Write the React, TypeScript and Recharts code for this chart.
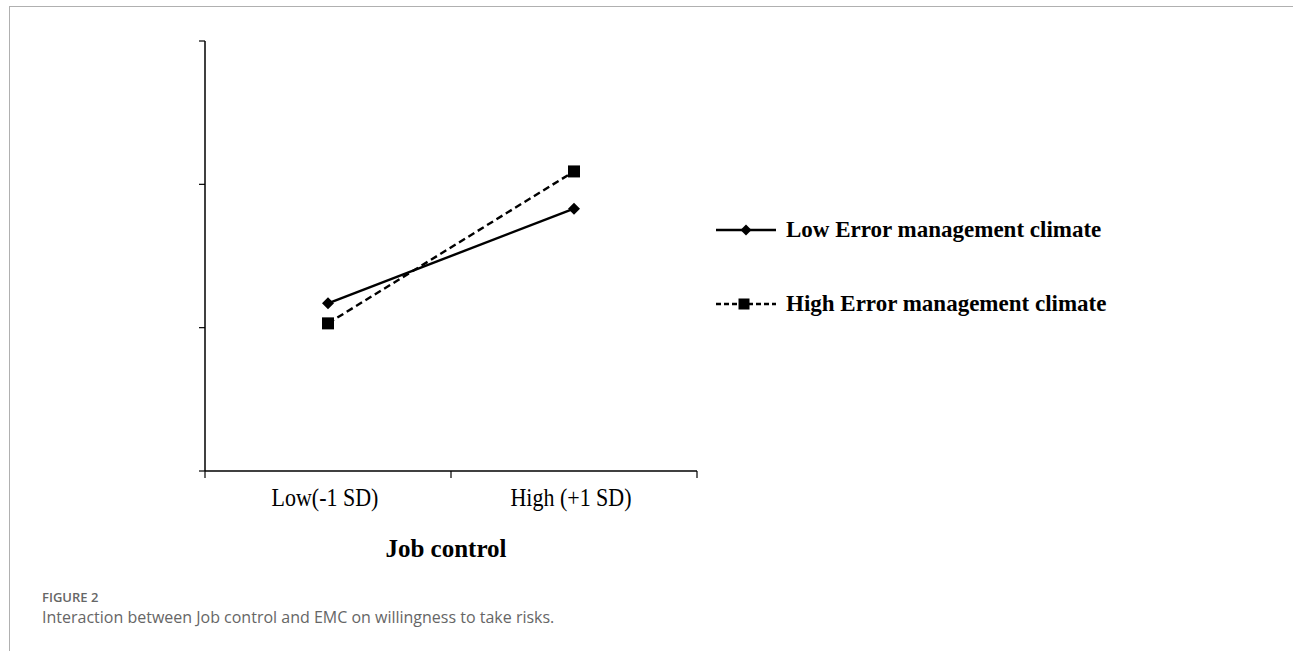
import { Legend, Line, LineChart, XAxis, YAxis } from "recharts";

const categories = ["Low(-1 SD)", "High (+1 SD)"];
const lowEmc = [1.17, 1.83];
const highEmc = [1.03, 2.09];
const yTicks = [0, 1, 2, 3];
const xLabel = "Job control";
const seriesNames = ["Low Error management climate", "High Error management climate"];
const figureTag = "FIGURE 2";
const caption = "Interaction between Job control and EMC on willingness to take risks.";

const data = categories.map((c, i) => ({
  x: i + 0.5,
  name: c,
  low: lowEmc[i],
  high: highEmc[i],
}));

// tick marks sit on the band edges, labels in the middle of each band
const xTicks = [0, 0.5, 1, 1.5, 2];

const serif = "'Liberation Serif', 'Times New Roman', serif";

function Diamond({ cx, cy, size = 6 }: { cx: number; cy: number; size?: number }) {
  return (
    <path
      d={`M${cx},${cy - size} L${cx + size},${cy} L${cx},${cy + size} L${cx - size},${cy} Z`}
      fill="#000"
    />
  );
}

function Square({ cx, cy, size = 6 }: { cx: number; cy: number; size?: number }) {
  return <rect x={cx - size} y={cy - size} width={size * 2} height={size * 2} fill="#000" />;
}

function BandTick(props: any) {
  const { x, y, payload } = props;
  const v = payload.value as number;
  if (Number.isInteger(v)) {
    return <line x1={x} x2={x} y1={y} y2={y + 7} stroke="#000" strokeWidth={1.2} />;
  }
  return (
    <text
      transform={`translate(${x - 3},${y + 35}) scale(1,1.12)`}
      textAnchor="middle"
      fontFamily={serif}
      fontSize={22}
      fill="#000"
    >
      {categories[Math.floor(v)]}
    </text>
  );
}

function KeyBox() {
  const rows = [
    { name: seriesNames[0], dash: undefined, marker: "diamond" },
    { name: seriesNames[1], dash: "5 3", marker: "square" },
  ];
  return (
    <div style={{ fontFamily: serif }}>
      {rows.map((r, i) => (
        <div
          key={r.name}
          style={{ display: "flex", alignItems: "center", height: 36, marginBottom: i === 0 ? 38 : 0 }}
        >
          <svg width={62} height={20} style={{ marginRight: 8 }}>
            <line x1={0} x2={60} y1={10} y2={10} stroke="#000" strokeWidth={2.5} strokeDasharray={r.dash} />
            {r.marker === "diamond" ? <Diamond cx={30} cy={10} size={5.5} /> : <Square cx={28} cy={10} size={5.5} />}
          </svg>
          <span style={{ fontWeight: 700, fontSize: 23, color: "#000" }}>{r.name}</span>
        </div>
      ))}
    </div>
  );
}

export default function App() {
  return (
    <div
      style={{
        position: "absolute",
        left: 0,
        top: 0,
        width: 1293,
        height: 651,
        background: "#fff",
        overflow: "hidden",
      }}
    >
      <div
        style={{
          position: "absolute",
          left: 9,
          top: 6,
          width: 1300,
          height: 700,
          borderTop: "1.5px solid #b0b0b0",
          borderLeft: "1.5px solid #b0b0b0",
        }}
      />
      <div style={{ position: "absolute", left: 0, top: 0 }}>
        <LineChart
          width={1293}
          height={651}
          data={data}
          margin={{ top: 41, right: 596, bottom: 80, left: 195 }}
        >
          <XAxis
            dataKey="x"
            type="number"
            domain={[0, 2]}
            ticks={xTicks}
            interval={0}
            tickLine={false}
            tickSize={0}
            tickMargin={0}
            tick={<BandTick />}
            height={100}
            axisLine={{ stroke: "#000", strokeWidth: 1.5 }}
            label={{
              value: xLabel,
              position: "insideBottom",
              offset: 14,
              dx: -5,
              style: { fontFamily: serif, fontSize: 25, fontWeight: 700, fill: "#000" },
            }}
          />
          <YAxis
            type="number"
            domain={[0, 3]}
            ticks={yTicks}
            interval={0}
            width={10}
            tickSize={6}
            tickFormatter={() => ""}
            tickLine={{ stroke: "#000", strokeWidth: 1.2 }}
            axisLine={{ stroke: "#000", strokeWidth: 1.5 }}
          />
          <Legend
            layout="horizontal"
            verticalAlign="middle"
            align="center"
            content={<KeyBox />}
            wrapperStyle={{ left: 716, top: 212, width: 470 }}
          />
          <Line
            dataKey="low"
            name={seriesNames[0]}
            stroke="#000"
            strokeWidth={2.4}
            dot={(p: any) => <Diamond key={`d${p.index}`} cx={p.cx} cy={p.cy} />}
            isAnimationActive={false}
          />
          <Line
            dataKey="high"
            name={seriesNames[1]}
            stroke="#000"
            strokeWidth={2.4}
            strokeDasharray="7 4"
            dot={(p: any) => <Square key={`s${p.index}`} cx={p.cx} cy={p.cy} />}
            isAnimationActive={false}
          />
        </LineChart>
      </div>
      <div
        style={{
          position: "absolute",
          left: 42,
          top: 588,
          fontFamily: "'Open Sans', sans-serif",
          color: "#666",
        }}
      >
        <div style={{ fontSize: 13, fontWeight: 600, lineHeight: "18px" }}>{figureTag}</div>
        <div style={{ fontSize: 16, fontWeight: 400, lineHeight: "22px" }}>{caption}</div>
      </div>
    </div>
  );
}
